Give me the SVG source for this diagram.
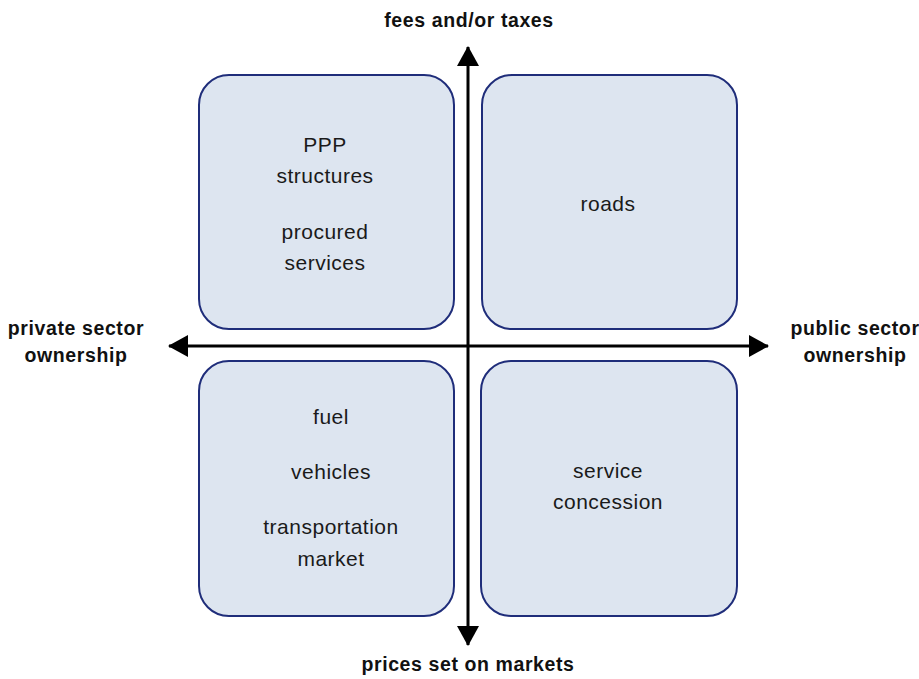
<svg xmlns="http://www.w3.org/2000/svg" width="919" height="679" viewBox="0 0 919 679">
  <style>
    .box { fill: #dde5f0; stroke: #1f2d7a; stroke-width: 2; }
    .t { font-family: "Liberation Sans", Arial, sans-serif; font-size: 21px; letter-spacing: 0.5px; fill: #1a1a1a; text-anchor: middle; }
    .lbl { font-family: "Liberation Sans", Arial, sans-serif; font-size: 19.5px; letter-spacing: 0.6px; font-weight: bold; fill: #111; text-anchor: middle; }
    .axis { stroke: #000; stroke-width: 3; fill: none; }
  </style>
  <defs>
    <marker id="arrow" viewBox="0 0 20 22" refX="19" refY="11" markerWidth="20" markerHeight="22" markerUnits="userSpaceOnUse" orient="auto">
      <path d="M0,0 L20,11 L0,22 Z" fill="#000"/>
    </marker>
  </defs>

  <g id="box-top-left">
    <rect class="box" x="199" y="75" width="255" height="254" rx="30"/>
    <text class="t" x="325" y="152">PPP</text>
    <text class="t" x="325" y="183">structures</text>
    <text class="t" x="325" y="239">procured</text>
    <text class="t" x="325" y="270">services</text>
  </g>
  <g id="box-top-right">
    <rect class="box" x="482" y="75" width="255" height="254" rx="30"/>
    <text class="t" x="608" y="211">roads</text>
  </g>
  <g id="box-bottom-left">
    <rect class="box" x="199" y="361" width="255" height="255" rx="30"/>
    <text class="t" x="331" y="424">fuel</text>
    <text class="t" x="331" y="479">vehicles</text>
    <text class="t" x="331" y="534">transportation</text>
    <text class="t" x="331" y="566">market</text>
  </g>
  <g id="box-bottom-right">
    <rect class="box" x="481" y="361" width="256" height="255" rx="30"/>
    <text class="t" x="608" y="478">service</text>
    <text class="t" x="608" y="509">concession</text>
  </g>

  <g id="connectors">
    <line class="axis" x1="468" y1="346" x2="468" y2="47" marker-end="url(#arrow)"/>
    <line class="axis" x1="468" y1="346" x2="468" y2="645" marker-end="url(#arrow)"/>
    <line class="axis" x1="468" y1="346" x2="169" y2="346" marker-end="url(#arrow)"/>
    <line class="axis" x1="468" y1="346" x2="768" y2="346" marker-end="url(#arrow)"/>
  </g>

  <g id="axis-labels">
    <text class="lbl" x="469" y="27">fees and/or taxes</text>
    <text class="lbl" x="468" y="671">prices set on markets</text>
    <text class="lbl" x="76" y="335">private sector</text>
    <text class="lbl" x="76" y="362">ownership</text>
    <text class="lbl" x="855" y="335">public sector</text>
    <text class="lbl" x="855" y="362">ownership</text>
  </g>
</svg>
